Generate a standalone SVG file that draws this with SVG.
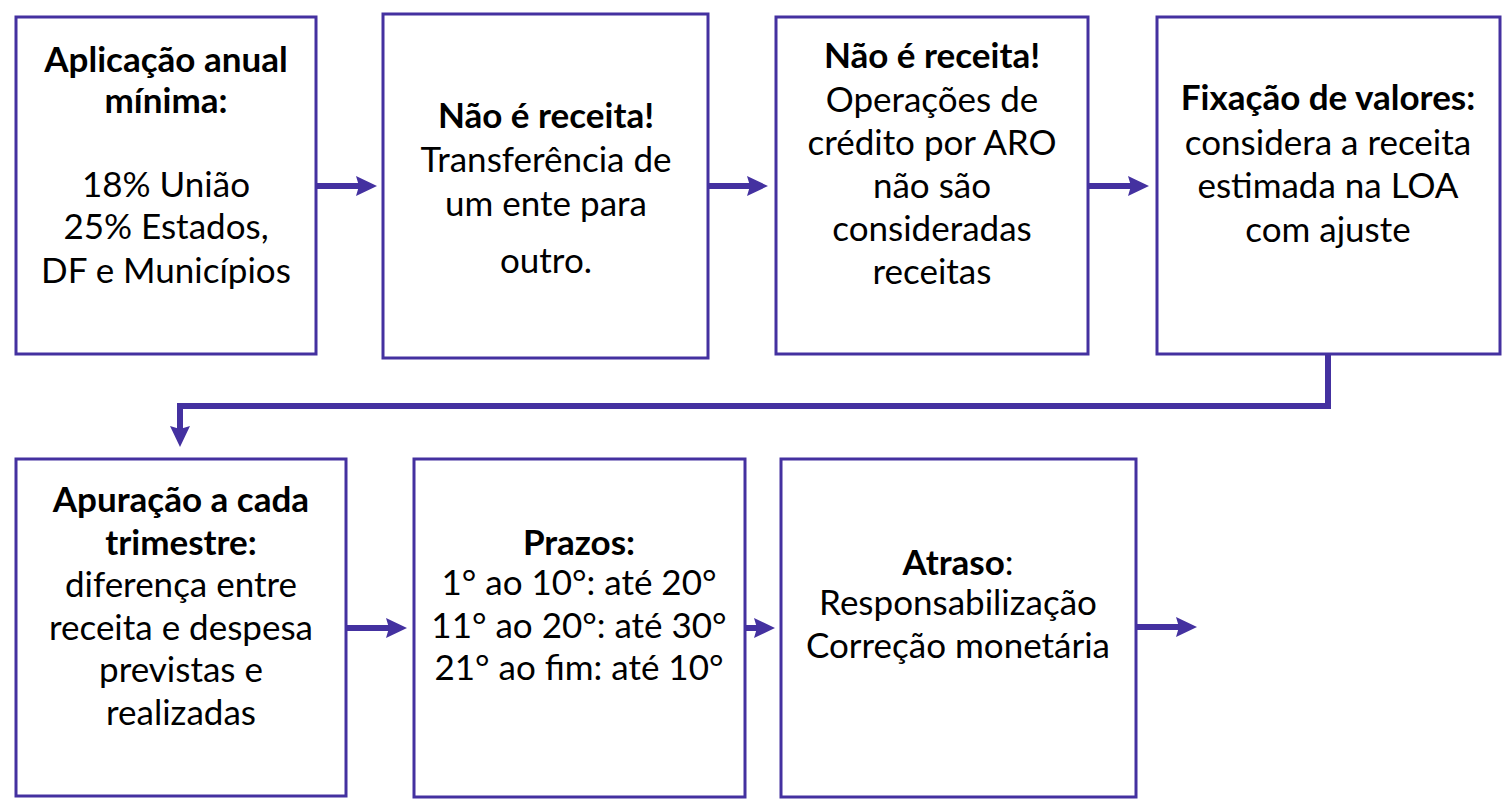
<svg xmlns="http://www.w3.org/2000/svg" width="1512" height="809" viewBox="0 0 1512 809">
<style>
.box{fill:#fff;stroke:#4431a0;stroke-width:3}
.t{font-family:Lato,"Noto Sans",sans-serif;font-size:35px;fill:#000;text-anchor:middle}
.b{font-weight:bold}
.c{fill:none;stroke:#4431a0;stroke-width:6}
</style>
<defs>
<marker id="ah" markerUnits="userSpaceOnUse" markerWidth="22" markerHeight="22" refX="8" refY="11" orient="auto" overflow="visible">
<path d="M0,1 L21,11 L0,21 L3,11 z" fill="#4431a0"/>
</marker>
</defs>
<rect width="1512" height="809" fill="#fff"/>
<g id="connectors">
<path class="c" d="M316,186 H364" marker-end="url(#ah)"/>
<path class="c" d="M708,186 H755" marker-end="url(#ah)"/>
<path class="c" d="M1088,186 H1136" marker-end="url(#ah)"/>
<path class="c" d="M1328,354 V406 H180 V434" marker-end="url(#ah)"/>
<path class="c" d="M346,628 H394" marker-end="url(#ah)"/>
<path class="c" d="M745,628 H762" marker-end="url(#ah)"/>
<path class="c" d="M1136,627 H1184" marker-end="url(#ah)"/>
</g>
<g id="n1">
<rect class="box" x="16" y="17" width="300" height="337"/>
<text class="t b" x="166" y="72">Aplicação anual</text>
<text class="t b" x="166" y="113">mínima:</text>
<text class="t" x="166" y="197">18% União</text>
<text class="t" x="166" y="239">25% Estados,</text>
<text class="t" x="166" y="283">DF e Municípios</text>
</g>
<g id="n2">
<rect class="box" x="383" y="14" width="325" height="344"/>
<text class="t b" x="546" y="128">Não é receita!</text>
<text class="t" x="546" y="172">Transferência de</text>
<text class="t" x="546" y="216">um ente para</text>
<text class="t" x="546" y="273">outro.</text>
</g>
<g id="n3">
<rect class="box" x="776" y="17" width="312" height="337"/>
<text class="t b" x="932" y="68">Não é receita!</text>
<text class="t" x="932" y="112">Operações de</text>
<text class="t" x="932" y="155">crédito por ARO</text>
<text class="t" x="932" y="198">não são</text>
<text class="t" x="932" y="241">consideradas</text>
<text class="t" x="932" y="284">receitas</text>
</g>
<g id="n4">
<rect class="box" x="1157" y="17" width="343" height="337"/>
<text class="t b" x="1328" y="110">Fixação de valores:</text>
<text class="t" x="1328" y="155">considera a receita</text>
<text class="t" x="1328" y="198">estimada na LOA</text>
<text class="t" x="1328" y="242">com ajuste</text>
</g>
<g id="n5">
<rect class="box" x="16" y="459" width="330" height="337"/>
<text class="t b" x="181" y="512">Apuração a cada</text>
<text class="t b" x="181" y="555">trimestre:</text>
<text class="t" x="181" y="597">diferença entre</text>
<text class="t" x="181" y="640">receita e despesa</text>
<text class="t" x="181" y="682">previstas e</text>
<text class="t" x="181" y="725">realizadas</text>
</g>
<g id="n6">
<rect class="box" x="414" y="459" width="331" height="338"/>
<text class="t b" x="579" y="555">Prazos:</text>
<text class="t" x="579" y="595">1° ao 10°: até 20°</text>
<text class="t" x="579" y="638">11° ao 20°: até 30°</text>
<text class="t" x="579" y="680">21° ao fim: até 10°</text>
</g>
<g id="n7">
<rect class="box" x="781" y="459" width="355" height="338"/>
<text class="t" x="958" y="575"><tspan class="b">Atraso</tspan>:</text>
<text class="t" x="958" y="615">Responsabilização</text>
<text class="t" x="958" y="658">Correção monetária</text>
</g>
</svg>
